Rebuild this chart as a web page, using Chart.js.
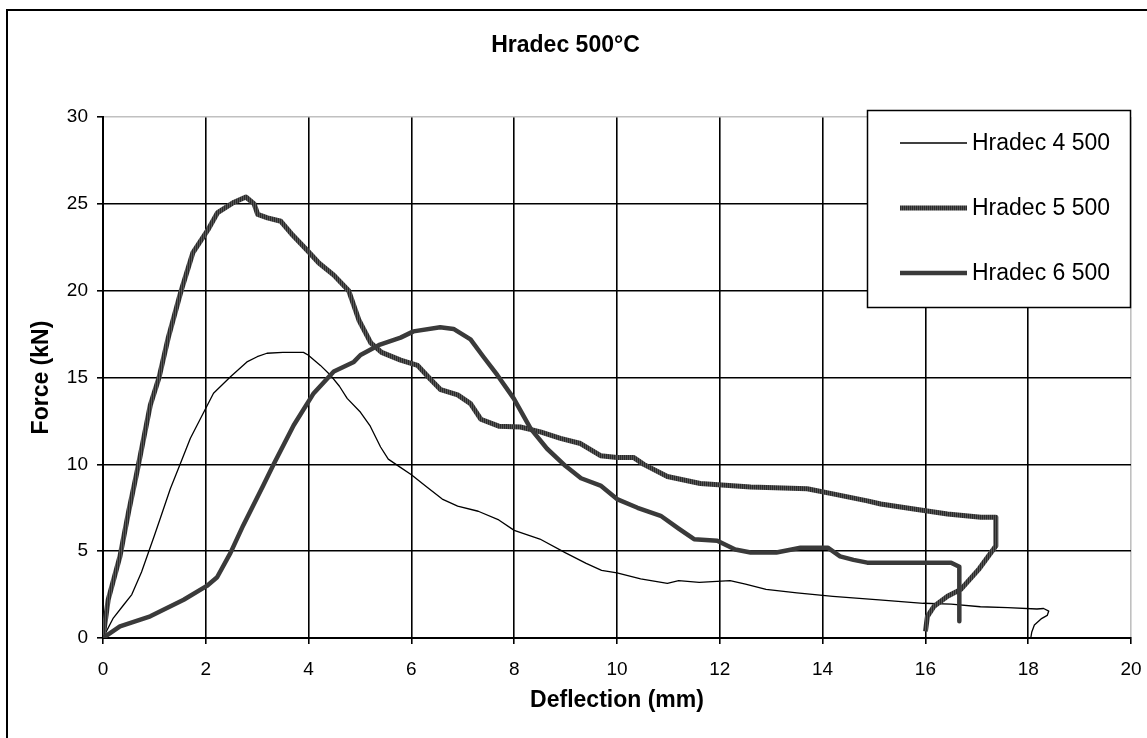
<!DOCTYPE html>
<html>
<head>
<meta charset="utf-8">
<title>Hradec 500°C</title>
<script src="https://cdn.jsdelivr.net/npm/chart.js@4.4.1/dist/chart.umd.min.js"></script>
<style>
  html, body { margin: 0; padding: 0; background: #fff; }
</style>
</head>
<body>
<canvas id="chart" width="1147" height="738"></canvas>
<script>
// tick labels
const xTicks = [0, 2, 4, 6, 8, 10, 12, 14, 16, 18, 20];
const yTicks = [0, 5, 10, 15, 20, 25, 30];

const seriesNames = ['Hradec 4 500', 'Hradec 5 500', 'Hradec 6 500'];

// Hradec 4 500 (thin black)
const s4X = [0, 0.2, 0.4, 0.56, 0.75, 0.88, 1.0, 1.11, 1.31, 1.5, 1.7, 1.89, 2.15, 2.48, 2.8, 3.0, 3.19, 3.5, 3.9, 3.99,
  4.23, 4.42, 4.6, 4.75, 5.01, 5.2, 5.4, 5.55, 5.75, 6.0, 6.3, 6.6, 6.9, 7.3, 7.7, 8.0, 8.5, 9.0, 9.4, 9.7,
  10.0, 10.46, 10.98, 11.2, 11.6, 12.2, 12.5, 12.9, 13.5, 14.2, 15.1, 15.96, 16.5, 17.07, 17.6, 18.17, 18.3, 18.4, 18.37, 18.25,
  18.12, 18.07, 18.05];
const s4Y = [0, 1.15, 1.9, 2.5, 3.8, 4.9, 5.9, 6.85, 8.6, 10.0, 11.5, 12.6, 14.1, 15.05, 15.9, 16.2, 16.4, 16.45, 16.45, 16.3,
  15.7, 15.15, 14.5, 13.8, 13.0, 12.2, 11.0, 10.3, 9.9, 9.4, 8.7, 8.0, 7.6, 7.3, 6.8, 6.2, 5.7, 4.9, 4.3, 3.9,
  3.75, 3.4, 3.15, 3.3, 3.2, 3.3, 3.1, 2.8, 2.6, 2.4, 2.2, 2.0, 1.95, 1.8, 1.75, 1.67, 1.7, 1.55, 1.3, 1.1,
  0.75, 0.35, 0];

// Hradec 5 500 (thick, hatched)
const s5X = [0, 0.1, 0.33, 0.5, 0.66, 0.92, 1.09, 1.27, 1.52, 1.75, 2.04, 2.23, 2.55, 2.78, 2.94, 3.01, 3.2, 3.46, 3.66, 3.98,
  4.2, 4.49, 4.78, 4.98, 5.21, 5.42, 5.79, 6.12, 6.37, 6.57, 6.9, 7.15, 7.35, 7.7, 8.12, 8.51, 8.9, 9.29, 9.68, 10.0,
  10.32, 10.52, 10.98, 11.62, 12.6, 13.7, 14.2, 14.87, 15.13, 15.84, 16.43, 17.08, 17.37, 17.37, 17.05, 16.69, 16.43, 16.17, 16.04, 16.0];
const s5Y = [0, 2.2, 4.7, 7.3, 9.55, 13.4, 15.0, 17.3, 20.0, 22.2, 23.5, 24.5, 25.1, 25.4, 25.0, 24.4, 24.2, 24.0, 23.3, 22.3,
  21.6, 20.9, 20.0, 18.3, 17.0, 16.45, 16.0, 15.7, 14.9, 14.3, 14.0, 13.5, 12.6, 12.2, 12.15, 11.87, 11.5, 11.2, 10.5, 10.4,
  10.4, 10.0, 9.3, 8.9, 8.7, 8.6, 8.3, 7.9, 7.72, 7.4, 7.14, 6.95, 6.96, 5.3, 4.0, 2.8, 2.4, 1.83, 1.25, 0.38];

// Hradec 6 500 (thick, solid)
const s6X = [0, 0.33, 0.92, 1.57, 2.02, 2.22, 2.48, 2.73, 3.12, 3.32, 3.71, 4.1, 4.49, 4.88, 5.01, 5.39, 5.79, 6.04, 6.56, 6.82,
  7.15, 7.4, 7.67, 7.99, 8.32, 8.64, 9.0, 9.3, 9.68, 10.0, 10.4, 10.85, 11.2, 11.5, 11.95, 12.3, 12.6, 13.1, 13.4, 13.57,
  14.1, 14.34, 14.6, 14.87, 16.5, 16.66, 16.66];
const s6Y = [0, 0.67, 1.25, 2.2, 3.0, 3.5, 4.9, 6.5, 8.8, 10.0, 12.25, 14.1, 15.35, 15.9, 16.3, 16.9, 17.3, 17.66, 17.9, 17.8,
  17.2, 16.2, 15.15, 13.8, 12.06, 10.9, 9.9, 9.2, 8.78, 8.0, 7.5, 7.04, 6.3, 5.69, 5.6, 5.1, 4.92, 4.92, 5.1, 5.2,
  5.2, 4.7, 4.5, 4.34, 4.34, 4.1, 0.96];

const FONT = '"Liberation Sans", Arial, sans-serif';

function toPoints(xs, ys) {
  return xs.map((x, i) => ({ x: x, y: ys[i] }));
}

const canvas = document.getElementById('chart');
const ctx = canvas.getContext('2d');

// hatched stroke for series 5
const stripe = document.createElement('canvas');
stripe.width = 2;
stripe.height = 2;
const sctx = stripe.getContext('2d');
sctx.fillStyle = '#2a2a2a';
sctx.fillRect(0, 0, 2, 2);
sctx.fillStyle = '#555555';
sctx.fillRect(1, 0, 1, 2);
const hatch = ctx.createPattern(stripe, 'repeat');

// white page + outer frame
const frame = {
  id: 'frame',
  beforeDraw(chart) {
    const c = chart.ctx;
    c.save();
    c.fillStyle = '#fff';
    c.fillRect(0, 0, chart.width, chart.height);
    c.strokeStyle = '#000';
    c.lineWidth = 2;
    c.beginPath();
    c.moveTo(7, chart.height);
    c.lineTo(7, 10);
    c.lineTo(chart.width, 10);
    c.stroke();
    c.restore();
  }
};

// boxed legend sitting over the top right of the plot
const boxLegend = {
  id: 'boxLegend',
  afterDraw(chart) {
    const c = chart.ctx;
    const right = chart.chartArea.right;
    const left = 867, top = 110, bottom = 308;
    c.save();
    c.fillStyle = '#fff';
    c.fillRect(left, top, right - left, bottom - top);
    c.strokeStyle = '#000';
    c.lineWidth = 1.5;
    c.strokeRect(left + 0.5, top + 0.5, right - left - 1, bottom - top - 1);
    const rows = [143, 208, 273];
    chart.data.datasets.forEach((ds, i) => {
      c.strokeStyle = ds.borderColor;
      c.lineWidth = ds.borderWidth;
      c.beginPath();
      c.moveTo(900, rows[i]);
      c.lineTo(967, rows[i]);
      c.stroke();
      c.fillStyle = '#000';
      c.font = '23px ' + FONT;
      c.textBaseline = 'middle';
      c.textAlign = 'left';
      c.fillText(ds.label, 972, rows[i] + 1);
    });
    c.restore();
  }
};

const chart = new Chart(ctx, {
  type: 'scatter',
  data: {
    datasets: [
      {
        label: seriesNames[0],
        data: toPoints(s4X, s4Y),
        showLine: true,
        borderColor: '#000',
        borderWidth: 1.3,
        pointRadius: 0,
        order: 2
      },
      {
        label: seriesNames[1],
        data: toPoints(s5X, s5Y),
        showLine: true,
        borderColor: hatch,
        borderWidth: 5,
        pointRadius: 0,
        order: 1
      },
      {
        label: seriesNames[2],
        data: toPoints(s6X, s6Y),
        showLine: true,
        borderColor: '#3a3a3a',
        borderWidth: 4.5,
        pointRadius: 0,
        order: 0
      }
    ]
  },
  options: {
    responsive: false,
    animation: false,
    layout: { padding: { left: 0, right: 16, top: 0, bottom: 0 } },
    elements: { line: { tension: 0, borderJoinStyle: 'round', borderCapStyle: 'butt' } },
    plugins: {
      legend: { display: false },
      tooltip: { enabled: false },
      title: {
        display: true,
        text: 'Hradec 500°C',
        color: '#000',
        font: { family: FONT, size: 23, weight: 'bold' },
        padding: { top: 31.5, bottom: 58 }
      }
    },
    scales: {
      x: {
        type: 'linear',
        min: 0,
        max: 20,
        afterBuildTicks: s => { s.ticks = xTicks.map(v => ({ value: v })); },
        afterFit: s => { s.height = 100; s.paddingLeft = 0; s.paddingRight = 0; },
        grid: {
          color: c => (c.tick && c.tick.value === 20 ? '#c0c0c0' : '#000'),
          lineWidth: 1.6,
          tickColor: '#000',
          tickLength: 6
        },
        border: { color: '#000', width: 2 },
        ticks: { color: '#000', font: { family: FONT, size: 19 }, padding: 14, maxRotation: 0 },
        title: {
          display: true,
          text: 'Deflection (mm)',
          color: '#000',
          font: { family: FONT, size: 23, weight: 'bold' },
          padding: { top: 0, bottom: 24 }
        }
      },
      y: {
        type: 'linear',
        min: 0,
        max: 30,
        afterBuildTicks: s => { s.ticks = yTicks.map(v => ({ value: v })); },
        afterFit: s => { s.width = 103; s.paddingTop = 0; s.paddingBottom = 0; },
        grid: {
          color: c => (c.tick && c.tick.value === 30 ? '#c0c0c0' : '#000'),
          lineWidth: 1.6,
          tickColor: '#000',
          tickLength: 6
        },
        border: { color: '#000', width: 2 },
        ticks: { color: '#000', font: { family: FONT, size: 19 }, padding: 9 },
        title: {
          display: true,
          text: 'Force (kN)',
          color: '#000',
          font: { family: FONT, size: 23, weight: 'bold' },
          padding: { top: 28, bottom: 0 }
        }
      }
    }
  },
  plugins: [frame, boxLegend]
});
</script>
</body>
</html>
